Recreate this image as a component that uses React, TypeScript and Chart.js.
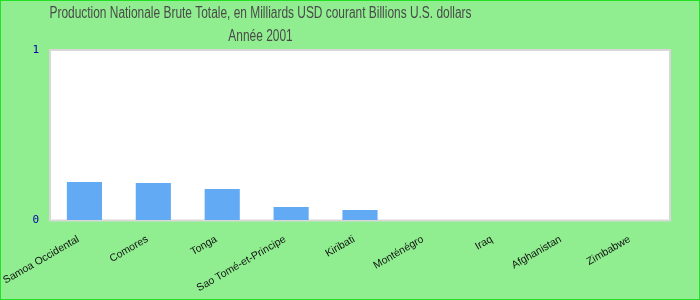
import React, { useEffect, useRef } from "react";
import { Chart, registerables } from "chart.js";

Chart.register(...registerables);

const categories = [
  "Samoa Occidental",
  "Comores",
  "Tonga",
  "Sao Tomé-et-Principe",
  "Kiribati",
  "Monténégro",
  "Iraq",
  "Afghanistan",
  "Zimbabwe",
];
const gniValues: (number | null)[] = [0.223, 0.218, 0.182, 0.077, 0.059, null, null, null, null];
const yTickValues = [0, 1];
const titleLines = [
  "Production Nationale Brute Totale, en Milliards USD courant Billions U.S. dollars",
  "Année 2001",
];

const decorPlugin = {
  id: "decor",
  beforeDraw(chart: any) {
    const { ctx, width, height, chartArea } = chart;
    ctx.save();
    ctx.fillStyle = "#90ee90";
    ctx.fillRect(0, 0, width, height);
    ctx.strokeStyle = "#22e022";
    ctx.lineWidth = 1;
    ctx.strokeRect(0.5, 0.5, width - 1, height - 1);
    ctx.fillStyle = "#ffffff";
    ctx.fillRect(chartArea.left, chartArea.top, chartArea.right - chartArea.left, chartArea.bottom - chartArea.top);
    ctx.strokeStyle = "#d8d8d8";
    ctx.lineWidth = 2;
    ctx.strokeRect(chartArea.left, chartArea.top, chartArea.right - chartArea.left, chartArea.bottom - chartArea.top + 0.5);
    // title
    ctx.fillStyle = "#4a4a4a";
    ctx.font = '16px "Liberation Sans", Arial, sans-serif';
    ctx.textAlign = "center";
    ctx.textBaseline = "alphabetic";
    const baselines = [18, 41];
    titleLines.forEach((line, i) => {
      ctx.save();
      ctx.translate(260.5, baselines[i]);
      ctx.scale(0.745, 1);
      ctx.fillText(line, 0, 0);
      ctx.restore();
    });
    ctx.restore();
  },
};

export default function App() {
  const ref = useRef<HTMLCanvasElement | null>(null);
  useEffect(() => {
    document.body.style.margin = "0";
    if (!ref.current) return;
    const chart = new Chart(ref.current, {
      type: "bar",
      data: {
        labels: categories,
        datasets: [
          {
            data: gniValues,
            backgroundColor: "#62aaf4",
            borderWidth: 0,
            categoryPercentage: 1,
            barPercentage: 0.51,
          },
        ],
      },
      options: {
        responsive: false,
        animation: false,
        layout: { padding: { top: 50, left: 0, right: 30, bottom: 0 } },
        plugins: {
          legend: { display: false },
          title: { display: false },
          tooltip: { enabled: false },
        },
        scales: {
          x: {
            grid: { display: false, drawTicks: false },
            border: { display: false },
            ticks: {
              autoSkip: false,
              minRotation: 30,
              maxRotation: 30,
              padding: 13,
              labelOffset: -6,
              color: "#111111",
              font: { family: '"Liberation Sans", Arial, sans-serif', size: 10.5 },
            },
            afterFit: (scale: any) => {
              scale.height = 80;
              scale.paddingLeft = 0;
              scale.paddingRight = 0;
            },
          },
          y: {
            min: 0,
            max: 1,
            grid: { display: false, drawTicks: false },
            border: { display: false },
            afterBuildTicks: (scale: any) => {
              scale.ticks = yTickValues.map((v) => ({ value: v }));
            },
            ticks: {
              padding: 11,
              color: "#0000a8",
              font: { family: '"DejaVu Sans Mono", monospace', size: 11 },
            },
            afterFit: (scale: any) => {
              scale.width = 50;
            },
          },
        },
      },
      plugins: [decorPlugin],
    });
    return () => chart.destroy();
  }, []);
  return (
    <div style={{ position: "absolute", left: 0, top: 0, width: 700, height: 300 }}>
      <canvas ref={ref} width={700} height={300} />
    </div>
  );
}
